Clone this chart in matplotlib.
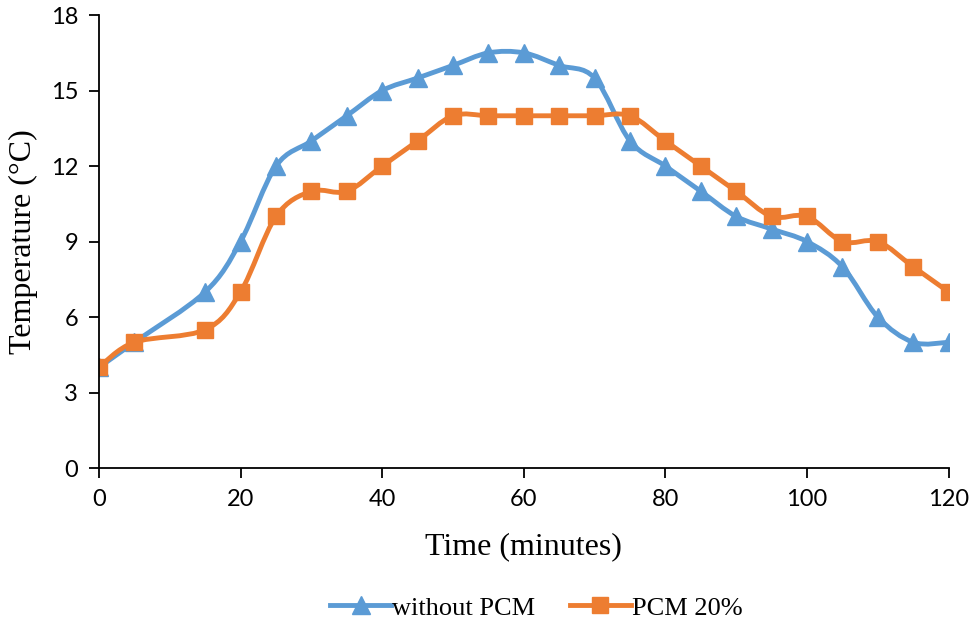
import numpy as np
import matplotlib.pyplot as plt
from matplotlib.path import Path
from matplotlib.patches import PathPatch
from matplotlib.lines import Line2D

time_min = [0, 5, 15, 20, 25, 30, 35, 40, 45, 50, 55, 60, 65, 70, 75, 80, 85, 90, 95, 100, 105, 110, 115, 120]
without_pcm = [4, 5, 7, 9, 12, 13, 14, 15, 15.5, 16, 16.5, 16.5, 16, 15.5, 13, 12, 11, 10, 9.5, 9, 8, 6, 5, 5]
pcm_20 = [4, 5, 5.5, 7, 10, 11, 11, 12, 13, 14, 14, 14, 14, 14, 14, 13, 12, 11, 10, 10, 9, 9, 8, 7]

blue = '#5B9BD5'
orange = '#ED7D31'


def smooth_path(x, y):
    # excel-like smoothed line as cubic bezier segments
    p = np.column_stack([x, y]).astype(float)
    n = len(p)
    verts = [p[0]]
    codes = [Path.MOVETO]
    for i in range(n - 1):
        p0 = p[i - 1] if i > 0 else p[i]
        p3 = p[i + 2] if i + 2 < n else p[i + 1]
        c1 = p[i] + (p[i + 1] - p0) / 6
        c2 = p[i + 1] - (p3 - p[i]) / 6
        verts += [c1, c2, p[i + 1]]
        codes += [Path.CURVE4] * 3
    return Path(verts, codes)


plt.rcParams['font.family'] = ['Lato', 'DejaVu Sans']
fig = plt.figure(figsize=(9.7, 6.3), dpi=100)
ax = fig.add_axes([0.102, 0.257, 0.876, 0.719])

for ys, c, m in [(without_pcm, blue, '^'), (pcm_20, orange, 's')]:
    ax.add_patch(PathPatch(smooth_path(time_min, ys), fc='none', ec=c, lw=3.5, capstyle='round', joinstyle='round'))
    ax.plot(time_min, ys, ls='none', marker=m, ms=13 if m == '^' else 12, color=c)

ax.set_xlim(0, 120)
ax.set_ylim(0, 18)
ax.set_xticks(range(0, 121, 20))
ax.set_yticks(range(0, 19, 3))
ax.tick_params(labelsize=17, direction='out', length=7, width=1.3, color='black', pad=8)
ax.spines['top'].set_visible(False)
ax.spines['right'].set_visible(False)
for s in ['left', 'bottom']:
    ax.spines[s].set_linewidth(1.3)
ax.set_xlabel('Time (minutes)', family='Liberation Serif', fontsize=23, labelpad=16)
ax.set_ylabel('Temperature (°C)', family='Liberation Serif', fontsize=23, labelpad=9)

handles = [Line2D([], [], color=blue, lw=3.5, marker='^', ms=13),
           Line2D([], [], color=orange, lw=3.5, marker='s', ms=12)]
fig.legend(handles, ['without PCM', 'PCM 20%'], loc='center', bbox_to_anchor=(0.553, 0.035),
           ncol=2, frameon=False, prop={'family': 'Liberation Serif', 'size': 19},
           handlelength=2.3, handletextpad=0.05, columnspacing=1.3)

fig.savefig('out.png', dpi=100)
